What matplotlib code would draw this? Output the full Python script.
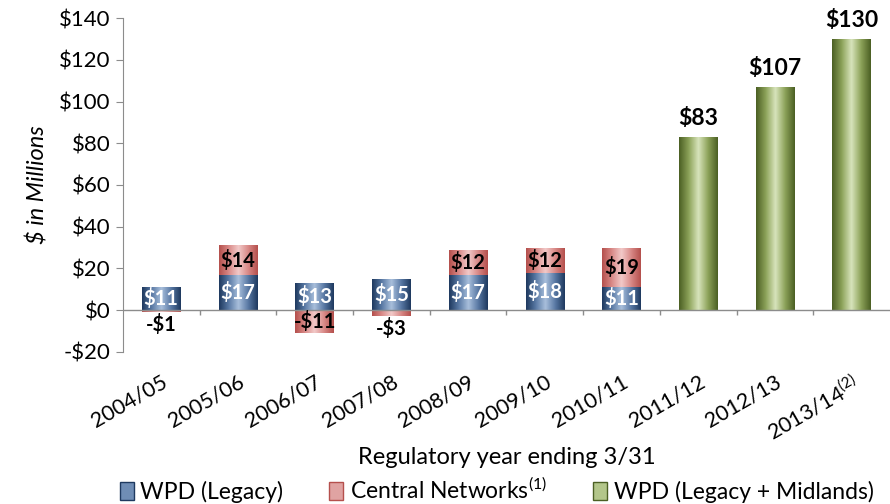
import numpy as np
import matplotlib
matplotlib.use('Agg')
import matplotlib.pyplot as plt
from matplotlib.colors import LinearSegmentedColormap
from matplotlib.patches import Patch

plt.rcParams['font.family'] = ['Lato', 'DejaVu Sans']
plt.rcParams['mathtext.fontset'] = 'custom'
plt.rcParams['mathtext.rm'] = 'Lato'

# datos
years = ['2004/05', '2005/06', '2006/07', '2007/08', '2008/09',
         '2009/10', '2010/11', '2011/12', '2012/13', '2013/14$^{(2)}$']
wpd_legacy = [11, 17, 13, 15, 17, 18, 11, 0, 0, 0]
central_networks = [-1, 14, -11, -3, 12, 12, 19, 0, 0, 0]
wpd_midlands = [0, 0, 0, 0, 0, 0, 0, 83, 107, 130]
yticks = [-20, 0, 20, 40, 60, 80, 100, 120, 140]

# colores (borde oscuro -> centro claro -> borde oscuro)
blue_cm = LinearSegmentedColormap.from_list('b', ['#1f3a60', '#5a7aa5', '#a9bfdc', '#5a7aa5', '#1f3a60'])
red_cm = LinearSegmentedColormap.from_list('r', ['#b5504d', '#d98a88', '#f2cac9', '#d98a88', '#b5504d'])
green_cm = LinearSegmentedColormap.from_list('g', ['#4c6024', '#8da35a', '#d8e4bc', '#8da35a', '#4c6024'])
grad = np.linspace(0, 1, 64).reshape(1, -1)

fig = plt.figure(figsize=(8.9, 5.04), dpi=100)
ax = fig.add_axes([0.138, 0.302, 0.862, 0.662])

x = np.arange(len(years))
w = 0.5

def gradient_bars(bars, cmap):
    for p in bars.patches:
        if p.get_height() == 0:
            continue
        y0 = p.get_y()
        y1 = y0 + p.get_height()
        im = ax.imshow(grad, extent=[p.get_x(), p.get_x() + p.get_width(), min(y0, y1), max(y0, y1)],
                       cmap=cmap, aspect='auto', zorder=3)
        im.set_clip_path(p)

# apilar: parte positiva de Central Networks encima de WPD, parte negativa debajo de cero
cn_bottom = [wl if cn > 0 else 0 for wl, cn in zip(wpd_legacy, central_networks)]
b1 = ax.bar(x, wpd_legacy, w, color='none', zorder=2)
b2 = ax.bar(x, central_networks, w, bottom=cn_bottom, color='none', zorder=2)
b3 = ax.bar(x, wpd_midlands, w, color='none', zorder=2)
gradient_bars(b1, blue_cm)
gradient_bars(b2, red_cm)
gradient_bars(b3, green_cm)

# etiquetas
for i, v in enumerate(wpd_legacy):
    if v:
        ax.text(x[i], v / 2, f'${v}', ha='center', va='center', color='white',
                fontsize=14.5, fontweight='bold', zorder=5)
for i, v in enumerate(central_networks):
    if v > 0:
        ax.text(x[i], cn_bottom[i] + v / 2, f'${v}', ha='center', va='center',
                color='black', fontsize=14.5, fontweight='bold', zorder=5)
    elif v < 0:
        yy = v / 2 if abs(v) > 5 else v - 6
        ax.text(x[i], yy, f'-${-v}', ha='center', va='center',
                color='black', fontsize=14.5, fontweight='bold', zorder=5)
for i, v in enumerate(wpd_midlands):
    if v:
        ax.annotate(f'${v}', (x[i], v), xytext=(0, 6), textcoords='offset points',
                    ha='center', va='bottom', fontsize=16.5, fontweight='bold', zorder=5)

# eje cero con marcas entre categorias
ax.axhline(0, color='#8c8c8c', lw=1, zorder=4)
ax.vlines(x[:-1] + 0.5, -2.5, 0, color='#8c8c8c', lw=1, zorder=4)

ax.set_xlim(-0.5, len(years) - 0.5)
ax.set_ylim(-20, 140)
ax.set_yticks(yticks)
ax.yaxis.set_major_formatter(plt.FuncFormatter(lambda v, _: f'${int(v)}' if v >= 0 else f'-${int(-v)}'))
ax.tick_params(axis='y', labelsize=16, length=5, color='#8c8c8c', pad=4)
ax.set_xticks(x)
ax.set_xticklabels(years, rotation=30, ha='right', rotation_mode='anchor', fontsize=15.5)
ax.tick_params(axis='x', length=0, pad=14)

for s in ['top', 'right', 'bottom']:
    ax.spines[s].set_visible(False)
ax.spines['left'].set_color('#8c8c8c')

ax.set_ylabel('$ in Millions', fontsize=17, style='italic', va='center')
ax.yaxis.set_label_coords(-0.111, 0.5)
ax.set_xlabel('Regulatory year ending 3/31', fontsize=17, va='center')
ax.xaxis.set_label_coords(0.5, -0.317)

handles = [Patch(facecolor='#6f8db5', edgecolor='#1f3a60', label='WPD (Legacy)'),
           Patch(facecolor='#e0a3a2', edgecolor='#b5504d', label='Central Networks$^{(1)}$'),
           Patch(facecolor='#b3c68a', edgecolor='#4c6024', label='WPD (Legacy + Midlands)')]
fig.legend(handles=handles, loc='center', bbox_to_anchor=(0.558, 0.028), ncol=3,
           frameon=False, fontsize=16.5, handlelength=0.6, handleheight=0.8,
           handletextpad=0.3, columnspacing=2.0, borderpad=0)

fig.savefig('out.png', dpi=100)
